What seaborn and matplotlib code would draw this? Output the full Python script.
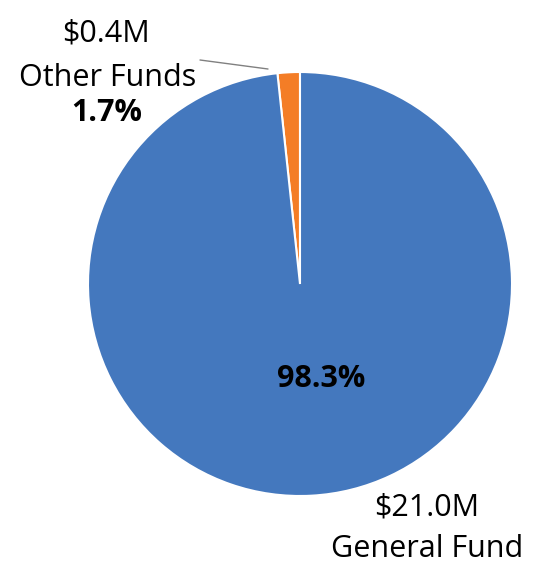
import seaborn as sns
import matplotlib.pyplot as plt

# fund split
funds = ["Other Funds", "General Fund"]
shares = [1.7, 98.3]
amounts = ["$0.4M", "$21.0M"]
pcts = ["1.7%", "98.3%"]
colors = ["#F47D26", "#4478BE"]

sns.set_theme(style="white")
plt.rcParams['font.family'] = ['Open Sans', 'DejaVu Sans']

fig = plt.figure(figsize=(5.39, 5.65), dpi=100)
ax = fig.add_axes([0, 0, 1, 1])

ax.pie(shares, colors=colors, startangle=90, counterclock=True,
       center=(300, 281), radius=212, frame=True,
       wedgeprops=dict(edgecolor='white', linewidth=1.5))

# pie() resets limits, so set them afterwards
ax.set_xlim(0, 539)
ax.set_ylim(0, 565)
ax.set_aspect('equal')
ax.axis('off')

fs = 22
# Other Funds label + leader line
ax.plot([200, 268], [505, 496], color='#808080', lw=1)
ax.text(106, 524, amounts[0], ha='center', va='baseline', fontsize=fs, color='black')
ax.text(108, 479, funds[0], ha='center', va='baseline', fontsize=fs, color='black')
ax.text(107, 444, pcts[0], ha='center', va='baseline', fontsize=fs, fontweight='bold', color='black')

# General Fund label
ax.text(321, 178, pcts[1], ha='center', va='baseline', fontsize=fs, fontweight='bold', color='black')
ax.text(427, 50, amounts[1], ha='center', va='baseline', fontsize=fs, color='black')
ax.text(427, 8, funds[1], ha='center', va='baseline', fontsize=fs, color='black')

fig.savefig("out.png", dpi=100)
